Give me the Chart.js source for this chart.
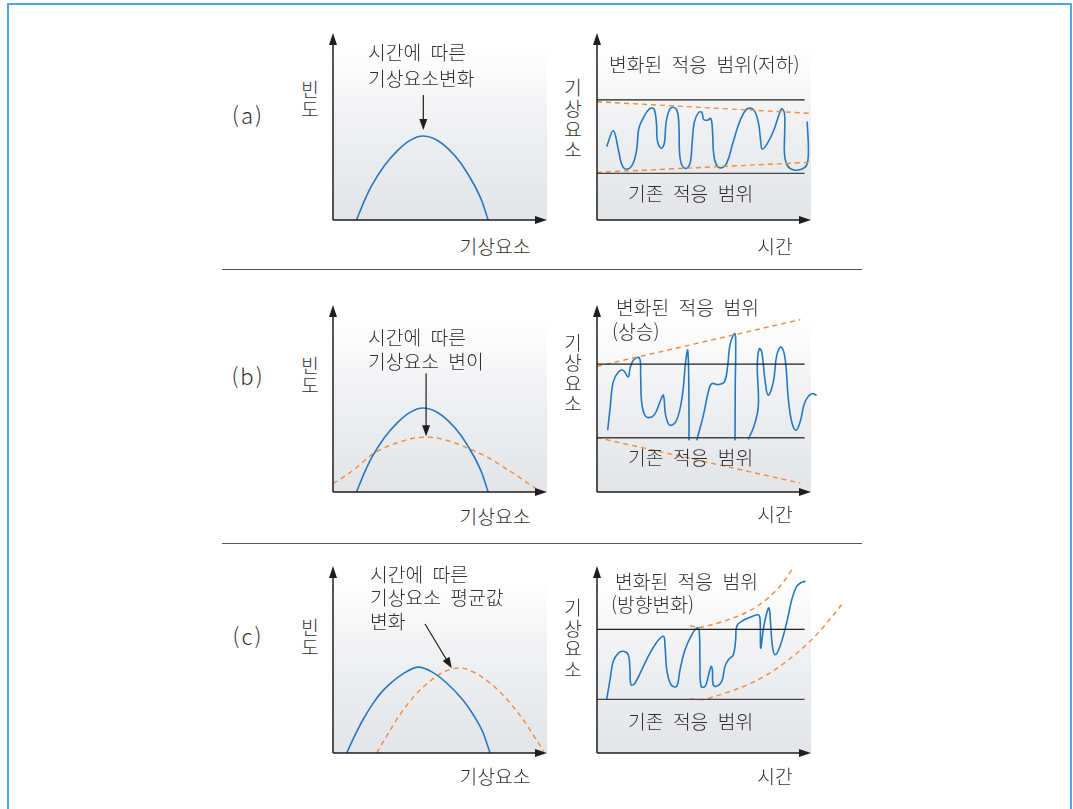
<!DOCTYPE html>
<html lang="ko">
<head>
<meta charset="utf-8">
<title>기후변화와 적응 범위</title>
<script src="https://cdn.jsdelivr.net/npm/chart.js@4.4.1/dist/chart.umd.min.js"></script>
<style>
  html, body { margin: 0; padding: 0; background: #fff; }
  body { position: relative; width: 1073px; height: 809px; overflow: hidden;
         font-family: "Noto Sans CJK KR", "Noto Sans", sans-serif; color: #2f2f2f; }
  .frame { position: absolute; left: 7px; top: 3px; width: 1065px; height: 900px;
           border: 2px solid #4ea8e2; box-sizing: border-box; }
  .sep { position: absolute; left: 222px; width: 640px; height: 1px; background: #555; }
  canvas { position: absolute; }
  .t { position: absolute; font-size: 19.3px; font-weight: 300; line-height: 1; white-space: nowrap;
       word-spacing: 4px; transform: translateY(-50%); }
  .c { transform: translate(-50%, -50%); }
  .v { position: absolute; font-size: 19px; font-weight: 300; text-align: center; width: 20px; }
  .tag { position: absolute; font-size: 22px; font-weight: 300; letter-spacing: 2px;
         transform: translate(-50%, -50%); }
</style>
</head>
<body>
<div class="frame"></div>
<div class="sep" style="top:269px"></div>
<div class="sep" style="top:543px"></div>

<canvas id="aL" width="240" height="205" style="left:323px;top:25px"></canvas>
<canvas id="aR" width="270" height="205" style="left:587px;top:25px"></canvas>
<canvas id="bL" width="240" height="205" style="left:323px;top:297px"></canvas>
<canvas id="bR" width="270" height="205" style="left:587px;top:297px"></canvas>
<canvas id="cL" width="240" height="205" style="left:323px;top:558px"></canvas>
<canvas id="cR" width="270" height="205" style="left:587px;top:558px"></canvas>

<!-- (a) 평균 변화 없이 적응 범위 저하 -->
<div class="tag" style="left:248px;top:114px">(a)</div>
<div class="v" style="left:300px;top:79px;line-height:20px">빈<br>도</div>
<div class="t" style="left:368px;top:53px">시간에 따른</div>
<div class="t" style="left:368px;top:79px">기상요소변화</div>
<div class="t c" style="left:495px;top:247px">기상요소</div>
<div class="t" style="left:609px;top:65px">변화된 적응 범위(저하)</div>
<div class="t" style="left:628px;top:194px">기존 적응 범위</div>
<div class="v" style="left:563px;top:77px;line-height:20.8px">기<br>상<br>요<br>소</div>
<div class="t c" style="left:775px;top:247px">시간</div>

<!-- (b) 변이 증가 -->
<div class="tag" style="left:248px;top:375px">(b)</div>
<div class="v" style="left:300px;top:355px;line-height:20px">빈<br>도</div>
<div class="t" style="left:368px;top:338px">시간에 따른</div>
<div class="t" style="left:368px;top:362px">기상요소 변이</div>
<div class="t c" style="left:495px;top:517px">기상요소</div>
<div class="t" style="left:616px;top:308px">변화된 적응 범위</div>
<div class="t" style="left:612px;top:332px">(상승)</div>
<div class="t" style="left:628px;top:458px">기존 적응 범위</div>
<div class="v" style="left:563px;top:332px;line-height:20.4px">기<br>상<br>요<br>소</div>
<div class="t c" style="left:775px;top:515px">시간</div>

<!-- (c) 평균값 이동 -->
<div class="tag" style="left:248px;top:635px">(c)</div>
<div class="v" style="left:300px;top:617px;line-height:20px">빈<br>도</div>
<div class="t" style="left:370px;top:575px">시간에 따른</div>
<div class="t" style="left:370px;top:598px">기상요소 평균값</div>
<div class="t" style="left:370px;top:622px">변화</div>
<div class="t c" style="left:495px;top:777px">기상요소</div>
<div class="t" style="left:615px;top:582px">변화된 적응 범위</div>
<div class="t" style="left:611px;top:605px">(방향변화)</div>
<div class="t" style="left:628px;top:722px">기존 적응 범위</div>
<div class="v" style="left:563px;top:597px;line-height:20.5px">기<br>상<br>요<br>소</div>
<div class="t c" style="left:775px;top:777px">시간</div>

<script>
// ---- Frequency distributions: [기상요소, 빈도] ----
const distNow     = [[11,0],[14.5,10.5],[18,19.5],[24,31],[30,39.5],[36,45.5],[42,48],[48,46],[54,40.5],[60,32],[66,20],[69.5,11],[72.5,0]];
const distWide    = [[0,4.8],[5,8.6],[10,13],[18.8,21.9],[25,25.8],[31.3,28.6],[37,30.6],[43.8,31.4],[50,30.5],[57.8,27.7],[65,24],[73.4,19.1],[80,14],[85.8,9.5],[91,5],[95.5,1.5]];
const distBefore  = [[6.4,0],[10,9.5],[14,19],[18.8,28.5],[22.5,34.5],[26.6,39.5],[33,45.5],[39.9,49.1],[46,46.5],[53.1,40],[60.9,30],[66,21],[70,12],[73.4,0]];
const distShifted = [[20.4,0],[25,9.5],[31.3,22],[38,32.5],[45.3,41],[52,46.5],[59.3,48.6],[66,46],[73.4,40],[81,31],[88.9,19],[94,9.5],[98.5,1]];

// annotation arrows: [start, tip] in 기상요소/빈도 units
const arrowA = [[42.2,71.4],[42.2,51.4]];
const arrowB = [[43.5,67.8],[43.5,31.8]];
const arrowC = [[43.0,73.7],[55.5,48.4]];

// ---- Time series of the climate variable: [시간, 기상요소] ----
const seriesA = [[4.5,41.9],[7.6,51.0],[10.0,40.0],[11.5,32],[13.6,29.0],[16.5,31.5],[18.5,40],[19.5,52],[21.5,58],[24.5,63.5],[26.6,63.5],[27.8,55],[28.2,45.5],[30.0,41.0],[31.5,44],[32.2,55],[33.5,62],[35.2,64.4],[37.4,62.5],[38.3,53],[38.6,38],[39.8,31],[41.8,29.5],[43.6,33],[44.5,45],[45.5,56],[47.5,61.5],[49.0,61.5],[49.8,57.5],[51.5,57],[53.2,58],[54.0,50],[54.5,38],[55.8,31.5],[58.0,29.8],[60.6,32.5],[63.5,44],[66,54],[68.5,61],[70.7,63.8],[73.5,62.5],[75.5,55],[76.5,45],[77.2,40.5],[79.5,43.5],[82.5,51],[85,60],[86.3,63.5],[87.6,61],[87.7,50],[87.6,38],[89.0,31],[92,28.6],[95.5,29],[98.0,31.5],[98.8,40],[98.2,56.2]];

const seriesB1 = [[5.0,35.3],[6.1,47.6],[7.6,62.9],[10.0,68.6],[12.3,69.5],[14.6,65.7],[15.4,70.5],[17.0,75.3],[19.8,76.6],[20.4,66],[20.8,52],[22.3,44],[24.5,42.5],[27,44.5],[29.4,51.4],[31.0,55.3],[32.1,43.8],[34.1,38.1],[37.2,41.0],[39.9,55.3],[41.4,74.3],[42.4,81.0],[42.9,60],[43.0,29.5]];
const seriesB2 = [[46.6,29.5],[49.7,43.8],[52.0,57.1],[53.6,61.9],[56.7,61.4],[59.5,62.9],[61.1,72.4],[62.1,83.8],[64.2,90.5],[64.8,88],[64.6,60],[64.5,29.5]];
const seriesB3 = [[70.7,30.1],[73.5,38.1],[75.4,49.5],[74.9,72.4],[75.8,81.9],[77.0,80.0],[78.5,64],[80.0,55.3],[82.4,62.9],[84.0,78.1],[86.0,82.9],[87.9,76.2],[89.4,53.4],[91.0,40.0],[93.0,35.3],[94.9,40.0],[97.2,51.4],[100.3,56.2],[102.6,55.3]];

const seriesC = [[4.5,30.5],[6.1,41.9],[7.6,52.4],[10.0,57.1],[12.3,58.1],[14.6,56.2],[15.4,47.6],[15.9,39.0],[17.8,40.0],[22.4,51.4],[27.1,61.9],[31.0,66.7],[31.8,60.9],[32.6,47.6],[34.6,39.0],[37.2,38.1],[38.8,47.6],[41.1,58.9],[44.3,67.6],[46.6,71.4],[47.7,70.5],[48.1,53.3],[48.6,38.1],[50.5,38.1],[52.0,43.8],[53.3,49.5],[53.9,47.6],[54.3,39.0],[55.9,38.1],[58.3,40.9],[59.8,49.5],[61.4,53.3],[63.7,56.2],[64.8,64.8],[65.3,72.4],[67.6,75.2],[70.7,77.1],[75.4,79.0],[76.2,76.2],[76.5,60.0],[77.7,70.5],[79.3,80.0],[80.4,82.9],[81.2,72.4],[82.0,60.9],[83.2,56.2],[85.5,60.9],[88.6,74.3],[91.0,87.6],[93.3,95.2],[95.6,97.5],[97.5,98.1]];

// coping ranges: existing range [upper, lower] and the shifted range edges
const rangeSpan   = [0, 97];
const baseRangeA  = [68.6, 26.7];
const baseRangeB  = [73.1, 31.0];
const baseRangeC  = [70.7, 30.7];
const newUpperA = [[0,67.6],[100,60.9]];
const newLowerA = [[0,27.2],[100,33.0]];
const newUpperB = [[0,71.8],[95,98.5]];
const newLowerB = [[0,31.1],[95,5.1]];
const newUpperC = [[43.5,72.7],[47.3,71.8],[53.6,73.3],[61.4,76.2],[69.2,80.0],[77.0,85.7],[83.2,92.3],[87.9,99.0],[91.0,104.8]];
const newLowerC = [[43.5,30.9],[48.9,30.5],[55.1,32.4],[64.5,36.2],[73.8,40.9],[83.2,47.6],[92.5,56.2],[101.9,66.7],[111.2,80.0],[114.3,84.7]];

// axis extents: the arrowed axes end at AXIS_END; the time axis keeps room
// past it so curves that run beyond the frame stay visible
const AXIS_END = 100, TIME_ROOM = 120;

// ---- styling ----
const BLUE = '#2479c2', ORANGE = '#f08a3c', INK = '#1e1e1e';
const pts = arr => arr.map(([x, y]) => ({x, y}));

function solid(arr, tension) {
  return { data: pts(arr), borderColor: BLUE, borderWidth: 1.6, tension: tension,
           pointRadius: 0, fill: false, clip: false };
}
function smooth(arr) {
  return Object.assign(solid(arr, 0), { cubicInterpolationMode: 'monotone' });
}
function dashed(arr, monotone) {
  const d = { data: pts(arr), borderColor: ORANGE, borderWidth: 1.4, borderDash: [5, 4],
              pointRadius: 0, fill: false, clip: false, tension: 0 };
  if (monotone) d.cubicInterpolationMode = 'monotone';
  return d;
}
function level(y, color) {
  return { data: pts([[rangeSpan[0], y], [rangeSpan[1], y]]), borderColor: color,
           borderWidth: 1.3, pointRadius: 0, fill: false, clip: false, tension: 0 };
}

function arrowHead(ctx, x0, y0, x1, y1, len, half) {
  const ang = Math.atan2(y1 - y0, x1 - x0);
  ctx.beginPath();
  ctx.moveTo(x1, y1);
  ctx.lineTo(x1 - len * Math.cos(ang) + half * Math.sin(ang), y1 - len * Math.sin(ang) - half * Math.cos(ang));
  ctx.lineTo(x1 - len * Math.cos(ang) - half * Math.sin(ang), y1 - len * Math.sin(ang) + half * Math.cos(ang));
  ctx.closePath();
  ctx.fill();
}

// shaded plot area, arrowed axes and optional callout arrow
function panelPlugin(callout) {
  return {
    id: 'panel',
    beforeDatasetsDraw(chart) {
      const { ctx, scales: { x, y } } = chart;
      const left = x.getPixelForValue(0), right = x.getPixelForValue(AXIS_END);
      const top = y.getPixelForValue(AXIS_END), bottom = y.getPixelForValue(0);
      const g = ctx.createLinearGradient(0, top, 0, bottom);
      g.addColorStop(0, '#ffffff');
      g.addColorStop(0.5, '#eeeff1');
      g.addColorStop(1, '#e2e4e7');
      ctx.save();
      ctx.fillStyle = g;
      ctx.fillRect(left, top, right - left, bottom - top);
      ctx.restore();
    },
    afterDatasetsDraw(chart) {
      const { ctx, scales: { x, y } } = chart;
      const ox = x.getPixelForValue(0), oy = y.getPixelForValue(0);
      const xEnd = x.getPixelForValue(AXIS_END), yEnd = y.getPixelForValue(AXIS_END);
      ctx.save();
      ctx.strokeStyle = INK; ctx.fillStyle = INK; ctx.lineWidth = 1.5;
      ctx.beginPath();
      ctx.moveTo(ox, oy); ctx.lineTo(ox, yEnd - 6);
      ctx.moveTo(ox, oy); ctx.lineTo(xEnd - 6, oy);
      ctx.stroke();
      arrowHead(ctx, ox, oy, ox, yEnd - 12, 12, 4);
      arrowHead(ctx, ox, oy, xEnd, oy, 12, 4);
      if (callout) {
        const x0 = x.getPixelForValue(callout[0][0]), y0 = y.getPixelForValue(callout[0][1]);
        const x1 = x.getPixelForValue(callout[1][0]), y1 = y.getPixelForValue(callout[1][1]);
        const ang = Math.atan2(y1 - y0, x1 - x0);
        ctx.lineWidth = 1.2;
        ctx.beginPath();
        ctx.moveTo(x0, y0);
        ctx.lineTo(x1 - 8 * Math.cos(ang), y1 - 8 * Math.sin(ang));
        ctx.stroke();
        arrowHead(ctx, x0, y0, x1, y1, 11, 4);
      }
      ctx.restore();
    }
  };
}

// plot width per 100 units is 214 px in every panel
function panel(id, xMax, datasets, callout) {
  const canvas = document.getElementById(id);
  const padRight = canvas.width - 10 - 214 * xMax / 100;
  return new Chart(canvas, {
    type: 'line',
    data: { datasets },
    options: {
      responsive: false, animation: false, events: [],
      layout: { padding: { left: 10, top: 20, right: padRight, bottom: 10 } },
      plugins: { legend: { display: false }, tooltip: { enabled: false }, title: { display: false } },
      scales: {
        x: { type: 'linear', min: 0, max: xMax, display: false },
        y: { type: 'linear', min: 0, max: AXIS_END, display: false }
      }
    },
    plugins: [panelPlugin(callout)]
  });
}

const WIGGLE = 0.4;
// (a)
panel('aL', AXIS_END, [smooth(distNow)], arrowA);
panel('aR', TIME_ROOM, [level(baseRangeA[0], INK), level(baseRangeA[1], '#444'),
                 dashed(newUpperA), dashed(newLowerA), solid(seriesA, WIGGLE)]);
// (b)
panel('bL', AXIS_END, [smooth(distNow), dashed(distWide, true)], arrowB);
panel('bR', TIME_ROOM, [level(baseRangeB[0], INK), level(baseRangeB[1], '#444'),
                 dashed(newUpperB), dashed(newLowerB),
                 solid(seriesB1, WIGGLE), solid(seriesB2, WIGGLE), solid(seriesB3, WIGGLE)]);
// (c)
panel('cL', AXIS_END, [smooth(distBefore), dashed(distShifted, true)], arrowC);
panel('cR', TIME_ROOM, [level(baseRangeC[0], INK), level(baseRangeC[1], '#444'),
                 dashed(newUpperC, true), dashed(newLowerC, true), solid(seriesC, WIGGLE)]);
</script>
</body>
</html>
